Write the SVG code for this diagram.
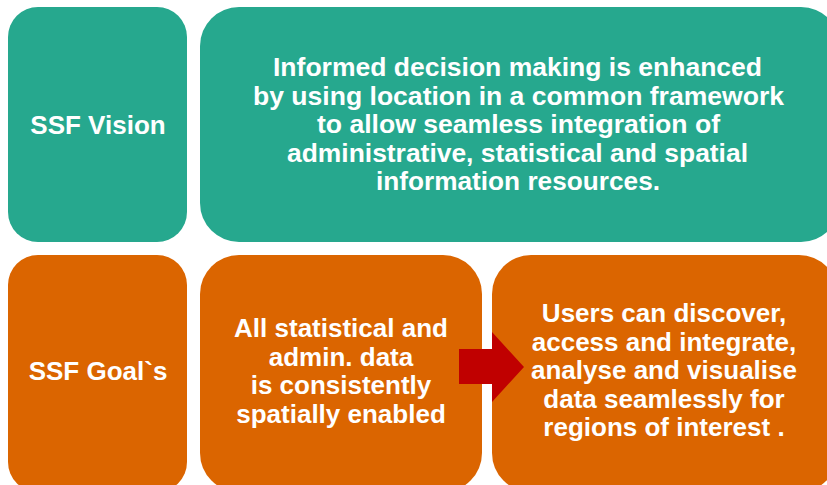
<svg xmlns="http://www.w3.org/2000/svg" width="827" height="485" viewBox="0 0 827 485">
<style>
.teal{fill:#26A88E}
.orange{fill:#DB6500}
.t{font-family:"Liberation Sans",Arial,sans-serif;font-weight:bold;fill:#FFFFFF;text-anchor:middle;font-size:26px}
.tn{font-family:"Liberation Sans",Arial,sans-serif;font-weight:bold;fill:#FFFFFF;font-size:25px}
</style>
<rect width="827" height="485" fill="#FFFFFF"/>
<g id="vision-label">
<rect class="teal" x="8" y="7" width="179" height="235" rx="30" ry="30"/>
<text class="t" x="98" y="134">SSF Vision</text>
</g>
<g id="vision-text">
<rect class="teal" x="200" y="7" width="640" height="235" rx="39" ry="39"/>
<text class="tn" x="273" y="76" textLength="489" lengthAdjust="spacingAndGlyphs">Informed decision making is enhanced</text>
<text class="tn" x="253" y="104.5" textLength="531" lengthAdjust="spacingAndGlyphs">by using location in a common framework</text>
<text class="tn" x="317" y="133" textLength="403" lengthAdjust="spacingAndGlyphs">to allow seamless integration of</text>
<text class="tn" x="287" y="161.5" textLength="461" lengthAdjust="spacingAndGlyphs">administrative, statistical and spatial</text>
<text class="tn" x="376" y="190" textLength="284" lengthAdjust="spacingAndGlyphs">information resources.</text>
</g>
<g id="goals-label">
<rect class="orange" x="8" y="255" width="179" height="237" rx="30" ry="30"/>
<text class="t" x="98" y="380">SSF Goal`s</text>
</g>
<g id="goal-1">
<rect class="orange" x="200" y="255" width="282" height="237" rx="39" ry="39"/>
<text class="t" x="341" y="337">All statistical and</text>
<text class="t" x="341" y="365.5">admin. data</text>
<text class="t" x="341" y="394">is consistently</text>
<text class="t" x="341" y="422.5">spatially enabled</text>
</g>
<g id="goal-2">
<rect class="orange" x="492" y="255" width="346" height="237" rx="39" ry="39"/>
<text class="t" x="664" y="322">Users can discover,</text>
<text class="t" x="664" y="350.5">access and integrate,</text>
<text class="t" x="664" y="379">analyse and visualise</text>
<text class="t" x="664" y="407.5">data seamlessly for</text>
<text class="t" x="664" y="436">regions of interest .</text>
</g>
<g id="connectors">
<polygon points="459,349 492,349 492,332 524,367 492,402 492,384 459,384" fill="#C00000"/>
</g>
</svg>
